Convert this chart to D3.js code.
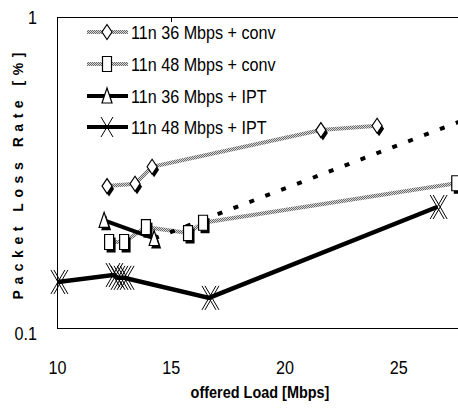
<!DOCTYPE html>
<html><head><meta charset="utf-8">
<script src="https://cdn.jsdelivr.net/npm/d3@7"></script>
<style>body{margin:0;background:#fff}svg{display:block}</style>
</head><body>
<script>
// ---- data ----
const xTicks = [10, 15, 20, 25];
const yTickLabels = ["0.1", "1"];
const seriesNames = ["11n 36 Mbps + conv", "11n 48 Mbps + conv", "11n 36 Mbps + IPT", "11n 48 Mbps + IPT"];
const conv36X = [12.2, 13.43, 14.18, 21.6, 24.07];
const conv36Y = [0.286, 0.291, 0.33, 0.433, 0.447];
const conv48X = [12.29, 12.95, 13.91, 15.76, 16.42, 27.55];
const conv48Y = [0.189, 0.189, 0.211, 0.202, 0.218, 0.292];
const ipt36X = [12.07, 14.27];
const ipt36Y = [0.222, 0.194];
const ipt36ExtX = [14.27, 28];
const ipt36ExtY = [0.194, 0.47];
const ipt48X = [10.04, 12.46, 12.68, 12.95, 16.68, 26.71];
const ipt48Y = [0.1406, 0.148, 0.145, 0.145, 0.125, 0.245];

const W = 458, H = 413;
const svg = d3.select("body").append("svg").attr("width", W).attr("height", H);
const defs = svg.append("defs");
const pat = defs.append("pattern").attr("id", "hatch").attr("patternUnits", "userSpaceOnUse")
  .attr("width", 2).attr("height", 2);
pat.append("rect").attr("width", 2).attr("height", 2).attr("fill", "#d8d8d8");
pat.append("rect").attr("width", 1).attr("height", 1).attr("fill", "#6a6a6a");
pat.append("rect").attr("x", 1).attr("y", 1).attr("width", 1).attr("height", 1).attr("fill", "#6a6a6a");

const x = d3.scaleLinear().domain([10, 30]).range([57, 512]);
const y = d3.scaleLog().domain([0.1, 1]).range([328, 17]);
const font = "'Liberation Sans', Arial, sans-serif";
const SX = 0.85;

// frame
svg.append("line").attr("x1", 57).attr("x2", W).attr("y1", 17.5).attr("y2", 17.5).attr("stroke", "#000");
svg.append("line").attr("x1", 57).attr("x2", W).attr("y1", 328.5).attr("y2", 328.5).attr("stroke", "#000");
svg.append("line").attr("x1", 57.5).attr("x2", 57.5).attr("y1", 17).attr("y2", 329).attr("stroke", "#000");
svg.append("line").attr("x1", Math.round(x(15)) + 0.5).attr("x2", Math.round(x(15)) + 0.5).attr("y1", 17).attr("y2", 22).attr("stroke", "#000");

// axes labels via d3 axis
const xAxis = svg.append("g").attr("transform", "translate(0,328)")
  .call(d3.axisBottom(x).tickValues(xTicks).tickSize(0).tickPadding(33).tickFormat(d3.format("d")));
xAxis.select(".domain").remove();
xAxis.selectAll("text").attr("font-family", font).attr("font-size", 19).attr("fill", "#000")
  .attr("transform", `scale(${SX},1)`);

const yAxis = svg.append("g").attr("transform", "translate(57,0)")
  .call(d3.axisLeft(y).tickValues([0.1, 1]).tickSize(0).tickPadding(0).tickFormat((d, i) => yTickLabels[i]));
yAxis.select(".domain").remove();
yAxis.selectAll("text").attr("font-family", font).attr("font-size", 19).attr("fill", "#000")
  .attr("x", -20 / SX).attr("transform", `scale(${SX},1)`);
yAxis.selectAll(".tick").filter(d => d === 0.1).select("text").attr("dy", "0.6em");

svg.append("text").attr("transform", `translate(260,398) scale(${SX},1)`).attr("text-anchor", "middle")
  .attr("font-family", font).attr("font-weight", "bold").attr("font-size", 17).text("offered Load [Mbps]");
svg.append("text").attr("transform", "translate(23,176) rotate(-90)").attr("text-anchor", "middle")
  .attr("font-family", font).attr("font-weight", "bold").attr("font-size", 14)
  .attr("textLength", 247).attr("lengthAdjust", "spacing").text("Packet Loss Rate [%]");

const line = d3.line().x(d => x(d[0])).y(d => y(d[1]));
const zip = (a, b) => a.map((v, i) => [v, b[i]]);

const plot = svg.append("g");
// lines
plot.append("path").attr("d", line(zip(conv36X, conv36Y))).attr("fill", "none").attr("stroke", "url(#hatch)").attr("stroke-width", 4);
plot.append("path").attr("d", line(zip(conv48X, conv48Y))).attr("fill", "none").attr("stroke", "url(#hatch)").attr("stroke-width", 4);
plot.append("path").attr("d", line(zip(ipt36ExtX, ipt36ExtY))).attr("fill", "none").attr("stroke", "#000").attr("stroke-width", 4).attr("stroke-dasharray", "5 12");
plot.append("path").attr("d", line(zip(ipt36X, ipt36Y))).attr("fill", "none").attr("stroke", "#000").attr("stroke-width", 4);
plot.append("path").attr("d", line(zip(ipt48X, ipt48Y))).attr("fill", "none").attr("stroke", "#000").attr("stroke-width", 4.5);

// marker shapes
const diamond = "M0,-7.5L5,0L0,7.5L-5,0Z";
const square = "M-4.5,-7.5H4.5V7.5H-4.5Z";
const triangle = "M0,-8L5,7H-5Z";
const cross = "M-7,-12L7,12M7,-12L-7,12";

function markers(xs, ys, d, shadow) {
  const g = plot.append("g");
  xs.forEach((xv, i) => {
    const px = x(xv), py = y(ys[i]);
    if (shadow) g.append("path").attr("d", d).attr("transform", `translate(${px + 2},${py + 3})`).attr("fill", "#000");
    g.append("path").attr("d", d).attr("transform", `translate(${px},${py})`).attr("fill", "#fff").attr("stroke", "#000").attr("stroke-width", 1.2);
  });
}
markers(conv36X, conv36Y, diamond, true);
markers(conv48X, conv48Y, square, true);
markers(ipt36X, ipt36Y, triangle, true);
const cg = plot.append("g");
ipt48X.forEach((xv, i) => {
  const px = x(xv), py = y(ipt48Y[i]);
  [0, 3].forEach(o => cg.append("path").attr("d", cross).attr("transform", `translate(${px + o},${py})`)
    .attr("fill", "none").attr("stroke", "#000").attr("stroke-width", 1));
});

// legend
const legY = [32, 64, 96, 127];
const legShapes = [diamond, square, triangle, null];
const lg = svg.append("g");
seriesNames.forEach((name, i) => {
  const yy = legY[i];
  lg.append("line").attr("x1", 87).attr("x2", 128).attr("y1", yy).attr("y2", yy)
    .attr("stroke", i < 2 ? "url(#hatch)" : "#000").attr("stroke-width", 4);
  if (legShapes[i]) lg.append("path").attr("d", legShapes[i]).attr("transform", `translate(107,${yy})`)
    .attr("fill", "#fff").attr("stroke", "#000").attr("stroke-width", 1.2);
  else lg.append("path").attr("d", "M-6,-10L6,10M6,-10L-6,10").attr("transform", `translate(107,${yy})`)
    .attr("fill", "none").attr("stroke", "#000").attr("stroke-width", 1);
  lg.append("text").attr("transform", `translate(131,${yy + 7}) scale(${SX},1)`)
    .attr("font-family", font).attr("font-size", 19).text(name);
});
</script>
</body></html>
